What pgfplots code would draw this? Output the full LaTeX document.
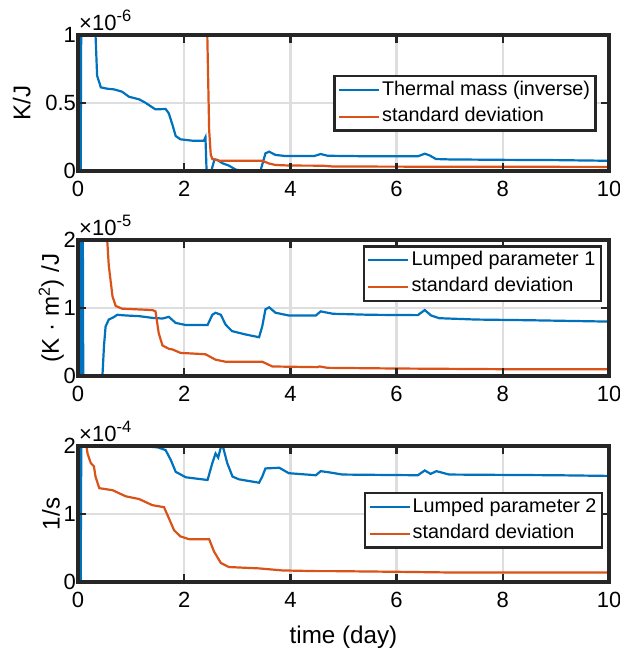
\documentclass[border=0pt]{standalone}
\usepackage{fontspec}
\setmainfont{Liberation Sans}
\usepackage{pgfplots}
\pgfplotsset{compat=1.18}
\usetikzlibrary{calc}
\definecolor{mblue}{RGB}{0,114,189}
\definecolor{morange}{RGB}{217,83,25}
\definecolor{mgrid}{RGB}{222,222,222}
\definecolor{maxis}{RGB}{38,38,38}
\newcommand\tickfont{\fontsize{22}{26}\selectfont}
\newcommand\legfont{\fontsize{19.8}{23}\selectfont}
\newcommand\labfont{\fontsize{24.2}{29}\selectfont}
\newcommand\expo[1]{{\fontsize{22}{26}\selectfont ×10\raisebox{9.5pt}{\fontsize{16.5}{19}\selectfont #1}}}
\newcommand\sq{\raisebox{9pt}{\fontsize{16}{19}\selectfont 2}}
\newcommand\boxticks[1]{%
  \foreach \f in {0.2,0.4,0.6,0.8} {
    \draw[line width=2.5pt, maxis] ($(#1.south west)!\f!(#1.south east)$) -- ++(0,8pt);
    \draw[line width=2.5pt, maxis] ($(#1.north west)!\f!(#1.north east)$) -- ++(0,-8pt);
  }
  \draw[line width=2.5pt, maxis] ($(#1.south west)!0.5!(#1.north west)$) -- ++(8pt,0);
  \draw[line width=2.5pt, maxis] ($(#1.south east)!0.5!(#1.north east)$) -- ++(-8pt,0);
  \draw[line width=3.5pt, maxis] (#1.south west) rectangle (#1.north east);
}
\pgfplotsset{
  mstyle/.style={
    set layers,
    scale only axis, width=531pt, height=136pt,
    xmin=0, xmax=10, ymin=0,
    xtick={0,2,4,6,8,10},
    clip mode=individual,
    /pgf/number format/assume math mode=true,
    ticklabel style={font=\tickfont},
    xticklabel style={yshift=-6.7pt},
    yticklabel style={xshift=1.5pt},
    label style={font=\labfont},
    xlabel style={yshift=-11pt},
    axis line style={line width=3.5pt, draw=maxis},
    tick align=inside, tick pos=both,
    major tick length=8pt,
    tick style={line width=2.5pt, draw=maxis},
    grid=major,
    major grid style={line width=2.5pt, draw=mgrid},
    legend cell align=left,
    legend image code/.code={\draw[##1] (0pt,0pt) -- (40pt,0pt);},
    legend style={draw=maxis, line width=2.5pt, fill=white, font=\legfont,
      inner xsep=3.5pt, inner ysep=1pt, row sep=0.5pt,
      nodes={inner xsep=2pt, inner ysep=4pt, text height=14pt, text depth=4pt}},
    every axis plot/.append style={line width=2.2pt},
  },
}
\begin{document}
\begin{tikzpicture}
% ---------- axis 1 ----------
\begin{axis}[mstyle, name=ax1, at={(78pt,479pt)}, anchor=south west,
  ymax=1, ytick={0,0.5,1}, yticklabels={0,0.5,1},
  ylabel={K/J}, ylabel shift=8pt,
  legend style={at={(0.977,0.706)}, anchor=north east}]
\addplot[mblue] coordinates {
(0.05,0) (0.08,3) (0.30,3) (0.33,1.0) (0.36,0.70) (0.43,0.615) (0.55,0.605)
(0.68,0.60) (0.83,0.583) (0.96,0.546) (1.15,0.527) (1.27,0.502) (1.40,0.468)
(1.46,0.453) (1.65,0.456) (1.71,0.424) (1.78,0.338) (1.84,0.257) (1.93,0.233)
(2.15,0.223) (2.37,0.223) (2.40,0.248) (2.43,-0.1) (2.49,-0.05) (2.51,0.0)
(2.57,0.085) (2.62,0.082) (2.72,0.057) (2.84,0.04) (2.97,0.01) (3.10,0.002)
(3.35,0.0) (3.38,-0.05) (3.42,-0.05) (3.45,0.02) (3.53,0.13) (3.60,0.142)
(3.72,0.118) (3.91,0.11) (4.45,0.11) (4.57,0.125) (4.70,0.112) (5.50,0.108)
(6.40,0.108) (6.53,0.127) (6.62,0.115) (6.74,0.088) (7.0,0.085) (8.0,0.082)
(9.0,0.080) (10,0.075)};
\addlegendentry{Thermal mass (inverse)}
\addplot[morange] coordinates {
(2.41,3) (2.435,1.0) (2.47,0.3) (2.50,0.12) (2.53,0.088) (2.66,0.076)
(3.0,0.075) (3.47,0.075) (3.60,0.055) (3.72,0.044) (4.0,0.040) (4.6,0.039)
(4.8,0.033) (6.0,0.032) (8.0,0.031) (10,0.030)};
\addlegendentry{standard deviation}
\node[anchor=base west, inner sep=0pt, xshift=1pt, yshift=4pt]
  at (rel axis cs:0,1) {\expo{-6}};
\end{axis}
\boxticks{ax1}
% ---------- axis 2 ----------
\begin{axis}[mstyle, name=ax2, at={(78pt,274pt)}, anchor=south west,
  ymax=2, ytick={0,1,2},
  ylabel={(K · m\sq) /J}, ylabel shift=-7pt,
  legend style={at={(0.987,0.963)}, anchor=north east}]
\addplot[mblue] coordinates {
(0.05,0) (0.08,5) (0.11,-3) (0.44,-1) (0.46,0) (0.49,0.45) (0.52,0.73)
(0.58,0.83) (0.66,0.86) (0.74,0.90) (0.90,0.89) (1.15,0.88) (1.40,0.855)
(1.59,0.845) (1.71,0.87) (1.84,0.78) (2.03,0.75) (2.44,0.75) (2.53,0.90)
(2.59,0.93) (2.69,0.90) (2.78,0.755) (2.90,0.66) (3.16,0.61) (3.41,0.57)
(3.47,0.73) (3.53,0.98) (3.60,1.01) (3.72,0.93) (3.97,0.89) (4.48,0.89)
(4.57,0.95) (4.80,0.915) (5.5,0.90) (6.4,0.895) (6.53,0.97) (6.65,0.89)
(6.80,0.85) (7.5,0.83) (8.5,0.82) (10,0.80)};
\addlegendentry{Lumped parameter 1}
\addplot[morange] coordinates {
(0.52,3) (0.55,2.0) (0.58,1.62) (0.65,1.17) (0.71,1.03) (0.83,0.99)
(1.40,0.97) (1.46,0.95) (1.52,0.63) (1.59,0.45) (1.71,0.40) (1.78,0.39)
(1.93,0.34) (2.40,0.32) (2.59,0.24) (2.78,0.21) (3.47,0.21) (3.66,0.14)
(4.50,0.13) (4.55,0.14) (4.70,0.12) (6.0,0.11) (8.0,0.10) (10,0.10)};
\addlegendentry{standard deviation}
\node[anchor=base west, inner sep=0pt, xshift=1pt, yshift=4pt]
  at (rel axis cs:0,1) {\expo{-5}};
\end{axis}
\boxticks{ax2}
% ---------- axis 3 ----------
\begin{axis}[mstyle, name=ax3, at={(78pt,68pt)}, anchor=south west,
  ymax=2, ytick={0,1,2},
  ylabel={1/s}, ylabel shift=-3pt, xlabel={time (day)},
  legend style={at={(0.989,0.662)}, anchor=north east}]
\addplot[mblue] coordinates {
(0.05,0) (0.08,5) (1.20,2.3) (1.34,1.99) (1.50,1.98) (1.65,1.94) (1.75,1.79)
(1.84,1.62) (2.03,1.54) (2.44,1.50) (2.53,1.75) (2.59,1.89) (2.64,1.83)
(2.69,1.98) (2.73,1.99) (2.81,1.75) (2.91,1.55) (3.03,1.51) (3.41,1.46)
(3.47,1.55) (3.53,1.67) (3.79,1.68) (3.97,1.60) (4.48,1.57) (4.57,1.63)
(4.75,1.61) (4.98,1.58) (6.40,1.57) (6.53,1.64) (6.64,1.59) (6.75,1.63)
(6.99,1.58) (9.0,1.57) (10,1.56)};
\addlegendentry{Lumped parameter 2}
\addplot[morange] coordinates {
(0.12,3) (0.16,2.0) (0.18,1.89) (0.24,1.75) (0.30,1.70) (0.33,1.55)
(0.40,1.38) (0.65,1.35) (0.90,1.26) (1.15,1.22) (1.40,1.13) (1.62,1.10)
(1.71,0.94) (1.81,0.76) (1.93,0.67) (2.09,0.63) (2.47,0.63) (2.56,0.45)
(2.69,0.28) (2.84,0.22) (3.41,0.20) (3.85,0.17) (4.48,0.16) (4.8,0.16)
(6.0,0.15) (7.0,0.14) (10,0.14)};
\addlegendentry{standard deviation}
\node[anchor=base west, inner sep=0pt, xshift=1pt, yshift=4pt]
  at (rel axis cs:0,1) {\expo{-4}};
\end{axis}
\boxticks{ax3}
\pgfresetboundingbox
\useasboundingbox (0,0) rectangle (620pt,650pt);
\end{tikzpicture}
\end{document}
